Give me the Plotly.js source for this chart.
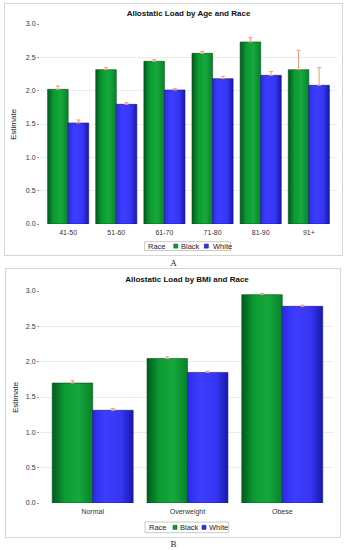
<!DOCTYPE html>
<html>
<head>
<meta charset="utf-8">
<script src="https://cdn.plot.ly/plotly-3.0.1.min.js"></script>
<style>
  html, body { margin: 0; padding: 0; background: #fff; width: 347px; height: 550px; overflow: hidden; }
  .panel { position: absolute; border: 1px solid #d6d6d6; background: #fff; }
  .cap { position: absolute; width: 347px; left: 0; text-align: center; font-family: "Liberation Serif", "DejaVu Serif", serif; font-size: 9px; color: #222; }
</style>
</head>
<body>
<div class="panel" id="panelA" style="left:4px; top:3px; width:337px; height:251px;"><div id="chartA" style="width:337px;height:251px;"></div></div>
<div class="cap" style="top:258px;">A</div>
<div class="panel" id="panelB" style="left:5px; top:268px; width:334px; height:268px;"><div id="chartB" style="width:334px;height:268px;"></div></div>
<div class="cap" style="top:539px;">B</div>
<script>
// ---------- Data ----------
const raceNames = ["Black", "White"];

const ageGroups = ["41-50", "51-60", "61-70", "71-80", "81-90", "91+"];
const ageBlack = [2.02, 2.315, 2.44, 2.56, 2.73, 2.315];
const ageBlackUpper = [2.07, 2.345, 2.465, 2.59, 2.80, 2.605];
const ageWhite = [1.515, 1.795, 2.01, 2.18, 2.23, 2.08];
const ageWhiteUpper = [1.56, 1.82, 2.03, 2.215, 2.285, 2.345];

const bmiGroups = ["Normal", "Overweight", "Obese"];
const bmiBlack = [1.697, 2.045, 2.948];
const bmiBlackUpper = [1.73, 2.068, 2.966];
const bmiWhite = [1.312, 1.848, 2.783];
const bmiWhiteUpper = [1.335, 1.866, 2.80];

const yTicks = [0, 0.5, 1.0, 1.5, 2.0, 2.5, 3.0];
const yTickText = ["0.0", "0.5", "1.0", "1.5", "2.0", "2.5", "3.0"];

// ---------- Styles ----------
const GREEN = "#109a34";
const BLUE = "#3434f4";
const ERR = "#ee9a7c";
const FONT = "Liberation Sans, Arial, sans-serif";

function barTrace(name, cats, vals, upper, color, lineColor) {
  return {
    type: "bar", name: name, x: cats, y: vals,
    marker: { color: color, line: { color: lineColor, width: 0.6 } },
    error_y: {
      type: "data", symmetric: false,
      array: upper.map((u, i) => u - vals[i]),
      arrayminus: vals.map(() => 0),
      color: ERR, thickness: 1, width: 2
    },
    showlegend: false, hoverinfo: "skip"
  };
}

function makeLayout(title, w, h, m, xrange, legendBox) {
  const plotW = w - m.l - m.r, plotH = h - m.t - m.b;
  const px = x => (x - m.l) / plotW;          // div px -> paper x
  const py = y => (h - m.b - y) / plotH;      // div px -> paper y
  const lb = legendBox;
  const yc = (lb.y0 + lb.y1) / 2;
  const s = 2;
  const shapes = [
    { type: "rect", xref: "paper", yref: "paper", x0: px(lb.x0), x1: px(lb.x1), y0: py(lb.y1), y1: py(lb.y0),
      line: { color: "#c8c8c8", width: 1 }, fillcolor: "rgba(0,0,0,0)" },
    { type: "rect", xref: "paper", yref: "paper", x0: px(lb.sq1 - s), x1: px(lb.sq1 + s), y0: py(yc + s), y1: py(yc - s),
      line: { color: "#005a1a", width: 0.6 }, fillcolor: GREEN },
    { type: "rect", xref: "paper", yref: "paper", x0: px(lb.sq2 - s), x1: px(lb.sq2 + s), y0: py(yc + s), y1: py(yc - s),
      line: { color: "#10108a", width: 0.6 }, fillcolor: BLUE }
  ];
  const legFont = { family: FONT, size: 7.5, color: "#222" };
  const annotations = [
    { text: "Race", xref: "paper", yref: "paper", x: px(lb.race - 1), y: py(yc), xanchor: "left", yanchor: "middle", showarrow: false, font: legFont },
    { text: raceNames[0], xref: "paper", yref: "paper", x: px(lb.t1 - 1), y: py(yc), xanchor: "left", yanchor: "middle", showarrow: false, font: legFont },
    { text: raceNames[1], xref: "paper", yref: "paper", x: px(lb.t2 - 1), y: py(yc), xanchor: "left", yanchor: "middle", showarrow: false, font: legFont },
    { text: "Estimate", xref: "paper", yref: "paper", x: px(lb.ytitleX), y: 0.5, xanchor: "center", yanchor: "middle",
      textangle: -90, showarrow: false, font: { family: FONT, size: 8, color: "#222" } }
  ];
  return {
    width: w, height: h,
    margin: { l: m.l, r: m.r, t: m.t, b: m.b, pad: 0 },
    paper_bgcolor: "#fff", plot_bgcolor: "#fff",
    title: { text: "<b>" + title + "</b>", font: { family: FONT, size: 8, color: "#111" },
             x: 0.5, xref: "paper", xanchor: "center", y: 1 - (lb.titleY / h), yanchor: "middle" },
    barmode: "group", bargap: 0.146, bargroupgap: 0,
    xaxis: { type: "category", range: xrange, showgrid: false, zeroline: false, showline: false,
             ticks: "", tickfont: { family: FONT, size: 7, color: "#333" }, ticklabelstandoff: 3, fixedrange: true },
    yaxis: { range: [0, 3.0], tickvals: yTicks, ticktext: yTickText, showgrid: true, gridcolor: "#ececec", gridwidth: 1,
             zeroline: false, showline: false, ticks: "outside", ticklen: 2, tickcolor: "#999",
             tickfont: { family: FONT, size: 7, color: "#333" }, fixedrange: true },
    shapes: shapes, annotations: annotations, showlegend: false
  };
}

function addGradients(gd, prefix) {
  const svg = gd.querySelector("svg.main-svg");
  const defs = svg.querySelector("defs");
  const ns = "http://www.w3.org/2000/svg";
  const grads = [
    { id: prefix + "g0", stops: [[0, "#005c1c"], [0.3, "#0d9a33"], [0.65, "#15a83c"], [1, "#07822a"]] },
    { id: prefix + "g1", stops: [[0, "#2b2be6"], [0.3, "#3d3dff"], [0.7, "#3636f4"], [1, "#1818ae"]] }
  ];
  grads.forEach(g => {
    if (defs.querySelector("#" + g.id)) return;
    const lg = document.createElementNS(ns, "linearGradient");
    lg.setAttribute("id", g.id);
    lg.setAttribute("x1", "0"); lg.setAttribute("x2", "1"); lg.setAttribute("y1", "0"); lg.setAttribute("y2", "0");
    g.stops.forEach(s => {
      const st = document.createElementNS(ns, "stop");
      st.setAttribute("offset", s[0]);
      st.setAttribute("stop-color", s[1]);
      lg.appendChild(st);
    });
    defs.appendChild(lg);
  });
  const traces = gd.querySelectorAll(".barlayer .trace");
  traces.forEach((t, i) => {
    t.querySelectorAll(".point path").forEach(p => { p.style.fill = "url(#" + prefix + "g" + i + ")"; });
  });
}

// ---------- Panel A ----------
const wA = 337, hA = 251, mA = { l: 35, r: 5, t: 20, b: 31 };
const legA = { x0: 139.7, x1: 225.7, y0: 237.7, y1: 246.5, race: 141.7, sq1: 170.8, t1: 175, sq2: 201.3, t2: 207, ytitleX: 8, titleY: 9.5 };
const layoutA = makeLayout("Allostatic Load by Age and Race", wA, hA, mA, [-0.585, 5.585], legA);
Plotly.newPlot("chartA", [
  barTrace(raceNames[0], ageGroups, ageBlack, ageBlackUpper, GREEN, "#00501a"),
  barTrace(raceNames[1], ageGroups, ageWhite, ageWhiteUpper, BLUE, "#14148c")
], layoutA, { staticPlot: true, displayModeBar: false }).then(gd => {
  addGradients(gd, "A");
  gd.on && gd.on("plotly_afterplot", () => addGradients(gd, "A"));
});

// ---------- Panel B ----------
const wB = 334, hB = 268, mB = { l: 34, r: 6, t: 22, b: 34 };
const legB = { x0: 139, x1: 222.7, y0: 253, y1: 263.7, race: 142, sq1: 169, t1: 173, sq2: 198, t2: 202, ytitleX: 9, titleY: 10.5 };
const layoutB = makeLayout("Allostatic Load by BMI and Race", wB, hB, mB, [-0.556, 2.546], legB);
Plotly.newPlot("chartB", [
  barTrace(raceNames[0], bmiGroups, bmiBlack, bmiBlackUpper, GREEN, "#00501a"),
  barTrace(raceNames[1], bmiGroups, bmiWhite, bmiWhiteUpper, BLUE, "#14148c")
], layoutB, { staticPlot: true, displayModeBar: false }).then(gd => {
  addGradients(gd, "B");
  gd.on && gd.on("plotly_afterplot", () => addGradients(gd, "B"));
});
</script>
</body>
</html>
